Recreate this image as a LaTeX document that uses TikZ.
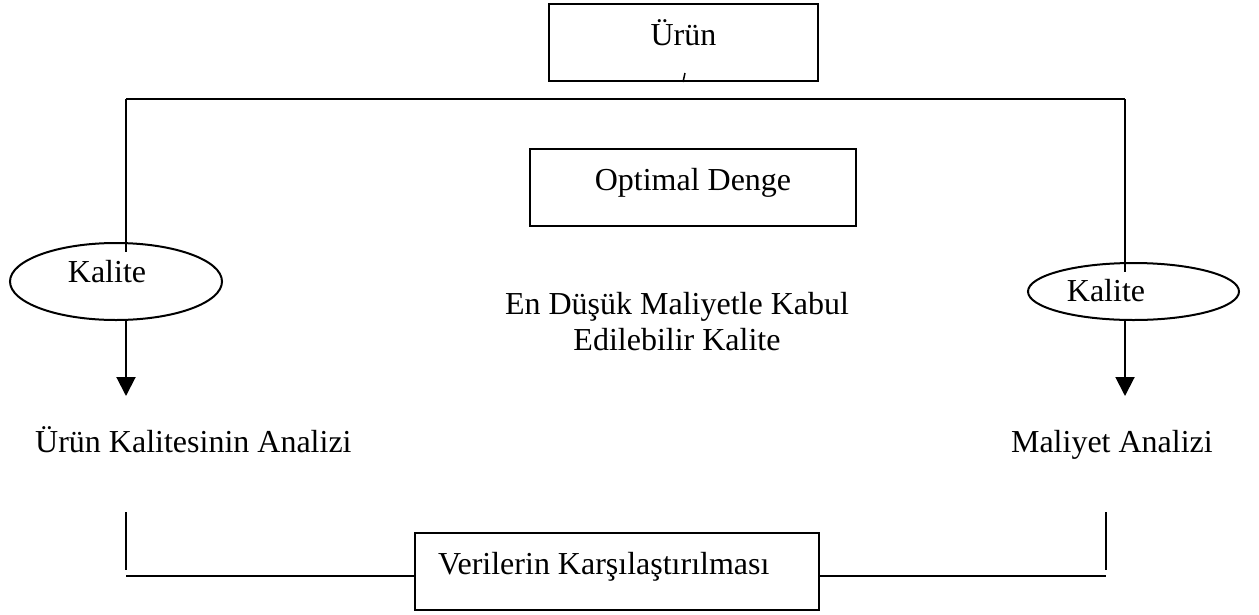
\documentclass[tikz,border=0pt]{standalone}
\usepackage{fontspec}
\setmainfont{Liberation Serif}
\usetikzlibrary{arrows.meta,positioning,shapes.geometric}
\tikzset{
  box/.style ={draw,line width=2pt,inner xsep=0pt,inner ysep=0pt,align=flush center,
               text height=41pt,text depth=36pt,anchor=north west},
  oval/.style={draw,ellipse,line width=2pt,inner sep=0pt},
  lbl/.style ={inner sep=0pt,anchor=base west},
  wire/.style={draw,line width=2pt},
  sig/.style ={wire,-{Triangle[length=19pt,width=19pt]}},
}

\begin{document}
\begin{tikzpicture}[x=1pt,y=-1pt,font=\fontsize{32}{36}\selectfont]
\useasboundingbox (0,0) rectangle (1259,614);

% product on top, branch line below it
\node[box,text width=269pt] (urun) at (548,3) {Ürün};
\draw[wire,line width=1.5pt] ([xshift=1.5pt,yshift=9pt]urun.south) -- ([xshift=-0.5pt]urun.south);
\coordinate (brL) at (126,99);
\coordinate (brR) at (1125,99);
\draw[wire] (brL) -- (brR);

\node[box,text width=326pt] (opt) at (529,148) {Optimal Denge};

% the two quality ovals
\node[oval,minimum width=212pt,minimum height=77pt,
      label={[inner sep=0pt,xshift=-9pt,yshift=9.5pt]center:Kalite}] (kalL) at (116,281.5) {};
\node[oval,minimum width=211pt,minimum height=57pt,
      label={[inner sep=0pt,xshift=-27.5pt,yshift=0.5pt]center:Kalite}] (kalR) at (1133.5,291.5) {};
\draw[wire] (brL) -- ([yshift=-10pt]brL |- kalL.north);
\draw[wire] (brR) -- ([yshift=-10pt]brR |- kalR.north);

\coordinate (tipL) at (126,396);
\coordinate (tipR) at (1125,396);
\draw[sig] (brL |- kalL.south) -- (tipL);
\draw[sig] (brR |- kalR.south) -- (tipR);

\node[align=center,inner sep=0pt] (mid) at (677,322)
  {En Düşük Maliyetle Kabul\\Edilebilir Kalite};

\node[lbl] (resL) at (35,452) {Ürün Kalitesinin Analizi};
\node[lbl,anchor=base east] (resR) at (1213,452) {Maliyet Analizi};

% comparison at the bottom
\node[box,text width=358pt,inner xsep=23pt,align=flush left] (comp) at (414,532)
  {Verilerin Karşılaştırılması};
\coordinate (legL) at (126,512);
\coordinate (legR) at (1106,512);
\coordinate (footL) at (126,576);
\coordinate (footR) at (1106,576);
\draw[wire] (legL) -- ++(0,58);
\draw[wire] (legR) -- ++(0,58);
\draw[wire] (footL) -- (footL -| comp.west);
\draw[wire] (comp.east |- footR) -- (footR);
\end{tikzpicture}
\end{document}
